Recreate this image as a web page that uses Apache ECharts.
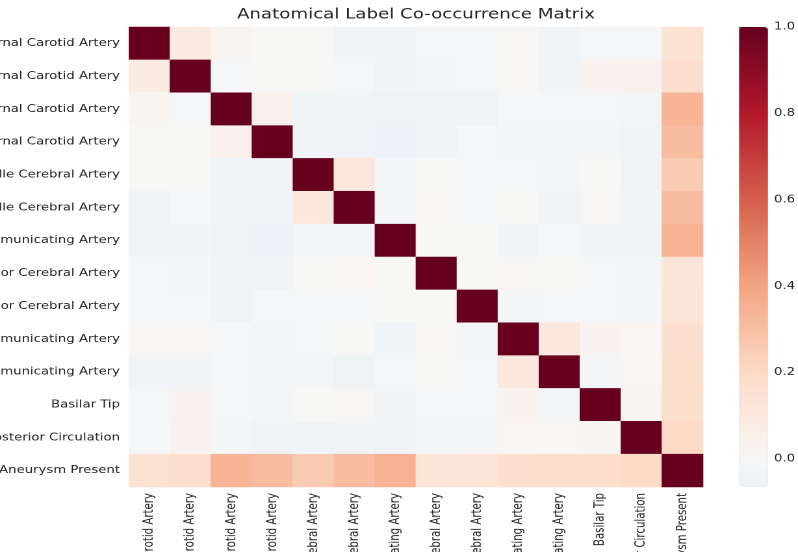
<!DOCTYPE html>
<html>
<head>
<meta charset="utf-8">
<script src="https://cdn.jsdelivr.net/npm/echarts@6/dist/echarts.min.js"></script>
<style>
  html, body { margin: 0; padding: 0; background: #ffffff; overflow: hidden; }
  /* The figure is drawn narrow and widened to 798px, giving the wide lettering */
  #chart { width: 614px; height: 552px; transform-origin: 0 0; }
</style>
</head>
<body>
<div id="chart"></div>
<script>
// Anatomical locations (rows and columns share the same order)
const labels = [
  'Left Infraclinoid Internal Carotid Artery',
  'Right Infraclinoid Internal Carotid Artery',
  'Left Supraclinoid Internal Carotid Artery',
  'Right Supraclinoid Internal Carotid Artery',
  'Left Middle Cerebral Artery',
  'Right Middle Cerebral Artery',
  'Anterior Communicating Artery',
  'Left Anterior Cerebral Artery',
  'Right Anterior Cerebral Artery',
  'Left Posterior Communicating Artery',
  'Right Posterior Communicating Artery',
  'Basilar Tip',
  'Other Posterior Circulation',
  'Aneurysm Present'
];

// Pairwise correlation matrix, one row per location
const corr = [
  [1, 0.09, 0.02, 0.005, 0.0, -0.033, -0.033, -0.012, -0.012, 0.01, -0.033, -0.012, -0.012, 0.15],
  [0.09, 1, -0.012, 0.0, 0.0, -0.012, -0.033, -0.022, -0.012, 0.01, -0.033, 0.025, 0.035, 0.17],
  [0.02, -0.012, 1, 0.05, -0.045, -0.033, -0.055, -0.045, -0.045, -0.012, -0.012, -0.012, -0.022, 0.34],
  [0.005, 0.0, 0.05, 1, -0.033, -0.045, -0.065, -0.045, -0.012, -0.022, -0.022, -0.022, -0.033, 0.31],
  [0.0, 0.0, -0.045, -0.033, 1, 0.11, -0.022, 0.0, -0.012, -0.012, -0.022, 0.0, -0.045, 0.26],
  [-0.033, -0.012, -0.033, -0.045, 0.11, 1, -0.022, 0.015, -0.012, 0.0, -0.045, 0.01, -0.033, 0.31],
  [-0.033, -0.033, -0.055, -0.065, -0.022, -0.022, 1, 0.0, 0.005, -0.033, -0.012, -0.033, -0.045, 0.35],
  [-0.012, -0.022, -0.045, -0.045, 0.0, 0.015, 0.0, 1, 0.0, 0.01, 0.005, -0.012, -0.022, 0.13],
  [-0.012, -0.012, -0.045, -0.012, -0.012, -0.012, 0.005, 0.0, 1, -0.022, -0.012, -0.012, -0.022, 0.14],
  [0.01, 0.01, -0.012, -0.022, -0.012, 0.0, -0.033, 0.01, -0.022, 1, 0.11, 0.03, 0.015, 0.17],
  [-0.033, -0.033, -0.012, -0.022, -0.022, -0.045, -0.012, 0.005, -0.012, 0.11, 1, -0.022, 0.015, 0.18],
  [-0.012, 0.025, -0.012, -0.022, 0.0, 0.01, -0.033, -0.012, -0.012, 0.03, -0.022, 1, 0.02, 0.18],
  [-0.012, 0.035, -0.022, -0.033, -0.045, -0.033, -0.045, -0.022, -0.022, 0.015, 0.015, 0.02, 1, 0.20],
  [0.15, 0.17, 0.34, 0.31, 0.26, 0.31, 0.35, 0.13, 0.14, 0.17, 0.18, 0.18, 0.20, 1]
];

// Colour bar range and tick labels
const colorMin = -0.065;
const colorMax = 1.0;
const colorbarTicks = [0.0, 0.2, 0.4, 0.6, 0.8, 1.0];

// Diverging red-blue palette centred on zero (defined over -1..1)
const rdbuStops = ['#053061', '#2166ac', '#4393c3', '#92c5de', '#d1e5f0', '#f7f7f7',
                   '#fddbc7', '#f4a582', '#d6604d', '#b2182b', '#67001f'];

function hexToRgb(h) {
  return [parseInt(h.slice(1, 3), 16), parseInt(h.slice(3, 5), 16), parseInt(h.slice(5, 7), 16)];
}
function divergingColor(v) {
  const t = Math.max(0, Math.min(1, (v + 1) / 2)) * (rdbuStops.length - 1);
  const i = Math.min(Math.floor(t), rdbuStops.length - 2);
  const f = t - i;
  const a = hexToRgb(rdbuStops[i]), b = hexToRgb(rdbuStops[i + 1]);
  const c = a.map((x, k) => Math.round(x + (b[k] - x) * f));
  return 'rgb(' + c.join(',') + ')';
}

// Sample the palette evenly across the colour bar range
const gradient = [];
const nSamples = 64;
for (let k = 0; k < nSamples; k++) {
  gradient.push(divergingColor(colorMin + (colorMax - colorMin) * k / (nSamples - 1)));
}

const cells = [];
corr.forEach((row, r) => row.forEach((v, c) => cells.push([c, r, v])));

// Horizontal widening of the whole figure; layout below is in narrow units
const stretch = 798 / 614;
const sx = px => px / stretch;
const chartEl = document.getElementById('chart');
chartEl.style.transform = 'scaleX(' + stretch + ')';

const textColor = '#262626';
const font = 'DejaVu Sans';
const tickSize = 10.2;

const chart = echarts.init(chartEl, null, { renderer: 'canvas', devicePixelRatio: 2 });
chart.setOption({
  animation: false,
  backgroundColor: '#ffffff',
  textStyle: { fontFamily: font },
  title: {
    text: 'Anatomical Label Co-occurrence Matrix',
    left: sx(416),
    textAlign: 'center',
    top: 8,
    padding: 0,
    textStyle: { fontFamily: font, fontSize: 14, fontWeight: 'normal', color: textColor }
  },
  grid: [
    { left: sx(129), top: 27, width: sx(574), height: 460, outerBoundsMode: 'none' },
    { left: sx(739), top: 27, width: sx(29), height: 460, outerBoundsMode: 'none' }
  ],
  xAxis: [
    {
      gridIndex: 0, type: 'category', data: labels, position: 'bottom',
      axisLine: { show: false }, axisTick: { show: false }, splitLine: { show: false },
      axisLabel: { rotate: 90, interval: 0, margin: 6, fontSize: tickSize, color: textColor, fontFamily: font, hideOverlap: false }
    },
    { gridIndex: 1, type: 'value', show: false, min: 0, max: 1 }
  ],
  yAxis: [
    {
      gridIndex: 0, type: 'category', data: labels, inverse: true,
      axisLine: { show: false }, axisTick: { show: false }, splitLine: { show: false },
      axisLabel: { interval: 0, margin: sx(9), fontSize: tickSize, color: textColor, fontFamily: font, hideOverlap: false }
    },
    {
      gridIndex: 1, type: 'value', position: 'right', min: colorMin, max: colorMax,
      axisLine: { show: false }, splitLine: { show: false },
      axisTick: { show: true, length: sx(4), customValues: colorbarTicks, lineStyle: { color: textColor, width: 1 } },
      axisLabel: {
        customValues: colorbarTicks, margin: sx(6), fontSize: tickSize, color: textColor, fontFamily: font,
        formatter: v => v.toFixed(1)
      }
    }
  ],
  visualMap: {
    type: 'continuous',
    min: colorMin, max: colorMax,
    seriesIndex: 0,
    calculable: false,
    orient: 'vertical',
    left: sx(739), top: 27,
    padding: 0,
    itemWidth: sx(29), itemHeight: 460,
    showLabel: false,
    text: null,
    inRange: { color: gradient }
  },
  series: [
    {
      type: 'heatmap',
      xAxisIndex: 0, yAxisIndex: 0,
      data: cells,
      itemStyle: { borderWidth: 0 },
      emphasis: { disabled: true }
    }
  ]
});
</script>
</body>
</html>
